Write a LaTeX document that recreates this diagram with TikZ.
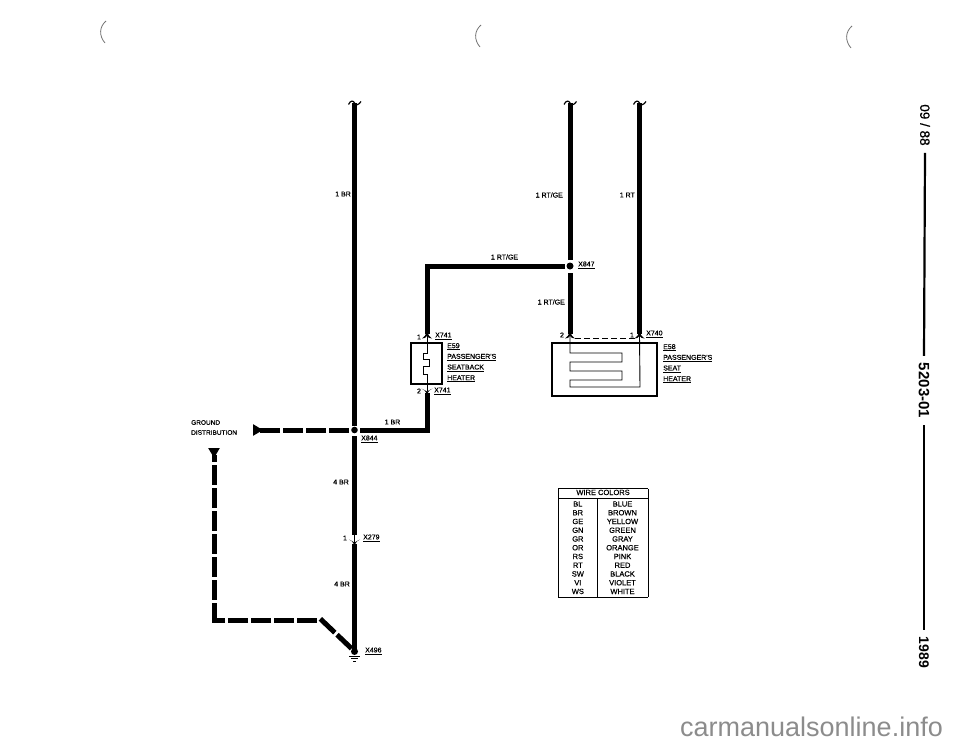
\documentclass[tikz,border=0pt]{standalone}
\usepackage{array}
\usepackage{fontspec}
\setmainfont{Liberation Sans}
\newfontfamily\scanfont[FakeBold=0.6]{Liberation Sans}
\usetikzlibrary{arrows.meta, positioning, calc}

\tikzset{
	wire/.style = {line width=5pt},
	groundwire/.style = {line width=5pt, dash pattern=on 20pt off 3pt},
	thinwire/.style = {line width=0.9pt},
	partbox/.style = {line width=1.1pt},
	wirelabel/.style = {inner sep=0pt, font=\scanfont\fontsize{7}{10.7}\selectfont, align=left},
	sidelabel/.style = {inner sep=7pt, rotate=-90},
	sideline/.style = {line width=2.2pt},
	pinup/.pic = {\fill (-5,2.5) .. controls (-2.5,1.5) and (-1.5,-1) .. (0,-5) .. controls (1.5,-1) and (2.5,1.5) .. (5,2.5) .. controls (2.5,2.5) and (1,1.5) .. (0,0) .. controls (-1,1.5) and (-2.5,2.5) .. cycle;},
	pindown/.pic = {\fill (-5.5,-2.5) .. controls (-3,-2) and (-1.5,0) .. (0,4) .. controls (1.5,0) and (3,-2) .. (5.5,-2.5) .. controls (3,-1) and (1,-0.5) .. (0,0.5) .. controls (-1,-0.5) and (-3,-1) .. cycle;},
	wireend/.pic = {\draw[line width=1.2pt] (-6,1.5) .. controls (-4,-3) and (-1,-2.5) .. (0,0) .. controls (1,2.5) and (4,2.5) .. (6.5,-1.5);}
}

\begin{document}
\begin{tikzpicture}[x=1pt, y=-1pt]
	\useasboundingbox (0,0) rectangle (960,744);

	\coordinate (top1) at (354.5,103);
	\coordinate (top2) at (570,103);
	\coordinate (top3) at (639.5,103);
	\coordinate (x844) at (354.5,430);
	\coordinate (x847) at (570,266);
	\coordinate (x279) at (354.5,542);
	\coordinate (x496) at (354.5,651.5);
	\coordinate (pin59a) at (427,336);
	\coordinate (pin59b) at (427,391);
	\coordinate (pin58a) at (570,336);
	\coordinate (pin58b) at (639.5,336);
	\coordinate (bend59) at (427,266);
	\coordinate (bendbr) at (427,430);

	% wires
	\foreach \t in {top1, top2, top3} \pic at (\t) {wireend};
	\draw[wire] (top1) -- ($(x844)+(0,-4)$);
	\draw[wire] ($(x844)+(0,6)$) -- ($(x279)+(0,-7)$);
	\draw[wire] ($(x279)+(0,2)$) -- ($(x496)+(0,-2)$);
	\draw[wire] (top2) -- ($(x847)+(0,-6)$);
	\draw[wire] ($(x847)+(0,7)$) -- ($(pin58a)+(0,-2)$);
	\draw[wire] (top3) -- ($(pin58b)+(0,-2)$);
	\draw[wire] ($(x847)+(-5,0)$) -- (bend59) -- ($(pin59a)+(0,-2)$);
	\draw[wire] ($(pin59b)+(0,2)$) -- (bendbr) -- ($(x844)+(5,0)$);
	\draw[thinwire] ($(x279)+(0,-8)$) -- ($(x279)+(0,2)$);
	\fill (x844) circle (3.3pt);
	\fill (x847) circle (3.5pt);
	\fill (x496) circle (3.5pt);
	\pic at (x279) {pindown};

	% ground
	\draw[line width=1pt] (349,656) -- (360,656);
	\draw[line width=1pt] (351,658.5) -- (358,658.5);
	\draw[line width=1pt] (353,661) -- (356,661);
	\draw[groundwire, -{Triangle[reversed,length=10pt,width=11pt]}] ($(x844)+(-5.5,0)$) -- (253,430);
	\coordinate (gndbend) at (320,618.5);
	\coordinate (gndcorner) at (212,620);
	\draw[groundwire] ($(x496)+(-3,-3)$) -- (gndbend);
	\draw[groundwire] (317,620) -- (gndcorner);
	\draw[groundwire, -{Triangle[reversed,length=10pt,width=11pt]}] (214,622.5) -- (214,448);

	% E59
	\draw[partbox] (411,343) rectangle (442,384);
	\draw[thinwire] (pin59a) -- (427,353) -- (423,353) -- (423,359) -- (429,359) -- (429,366) -- (423,366) -- (423,374) -- (427,374) -- (pin59b);
	\pic at (pin59a) {pinup};
	\pic at (pin59b) {pindown};

	% E58
	\draw[partbox] (552,343) rectangle (657,396);
	\draw[thinwire] (pin58a) -- (570,353) -- (622,353) -- (622,362) -- (570,362) -- (570,371) -- (622,371) -- (622,380) -- (570,380) -- (570,387) -- (640,387) -- (pin58b);
	\draw[line width=0.9pt, dashed, dash pattern=on 6pt off 3pt] ($(pin58a)+(5,2)$) -- ($(pin58b)+(-5,2)$);
	\pic at (pin58a) {pinup};
	\pic at (pin58b) {pinup};

	% labels
	\node[wirelabel, anchor=east] (lbr) at (351,194) {1 BR};
	\node[wirelabel, anchor=east] (lrtge) at (563,195) {1 RT/GE};
	\node[wirelabel, anchor=east] (lrt) at (635,195) {1 RT};
	\node[wirelabel] (lrtgeh) at (504.5,257) {1 RT/GE};
	\node[wirelabel, anchor=west] (lx847) at (578,265) {\underline{X847}};
	\node[wirelabel, anchor=east] (lrtgel) at (565,302) {1 RT/GE};
	\node[wirelabel] (l59a) at (419,337) {1};
	\node[wirelabel, anchor=west] (lx741a) at (435,336) {\underline{X741}};
	\node[wirelabel] (l59b) at (419,391) {2};
	\node[wirelabel, anchor=west] (lx741b) at (434,391) {\underline{X741}};
	\node[wirelabel] (l58a) at (562,335) {2};
	\node[wirelabel] (l58b) at (632,335) {1};
	\node[wirelabel, anchor=west] (lx740) at (646,334) {\underline{X740}};
	\node[wirelabel, anchor=north west] (le59) at (447,343) {\underline{E59}\\\underline{PASSENGER'S}\\\underline{SEATBACK}\\\underline{HEATER}};
	\node[wirelabel, anchor=north west] (le58) at (663,344) {\underline{E58}\\\underline{PASSENGER'S}\\\underline{SEAT}\\\underline{HEATER}};
	\node[wirelabel, anchor=north west, font=\scanfont\fontsize{6.5}{10}\selectfont] (lground) at (191,420) {GROUND\\DISTRIBUTION};
	\node[wirelabel] (lbrh) at (392.5,422) {1 BR};
	\node[wirelabel, anchor=west] (lx844) at (361,439) {\underline{X844}};
	\node[wirelabel, anchor=east] (lbr4a) at (349,482) {4 BR};
	\node[wirelabel] (l279) at (345,538) {1};
	\node[wirelabel, anchor=west] (lx279) at (363,538) {\underline{X279}};
	\node[wirelabel, anchor=east] (lbr4b) at (350,584) {4 BR};
	\node[wirelabel, anchor=west] (lx496) at (365,651) {\underline{X496}};

	% wire colors
	\node[anchor=north west, inner sep=0pt, font=\scanfont\fontsize{7.5}{8.75}\selectfont] (wirecolors) at (558,488) {\setlength{\tabcolsep}{0pt}\begin{tabular}{|>{\centering\arraybackslash}p{38.5pt}|>{\centering\arraybackslash}p{50pt}|}
			\hline
			\multicolumn{2}{|c|}{\rule[-2.6pt]{0pt}{9pt}WIRE COLORS} \\
			\hline
			\rule{0pt}{8.5pt}BL & BLUE \\
			BR & BROWN \\
			GE & YELLOW \\
			GN & GREEN \\
			GR & GRAY \\
			OR & ORANGE \\
			RS & PINK \\
			RT & RED \\
			SW & BLACK \\
			VI & VIOLET \\
			WS & WHITE \\
			\hline
	\end{tabular}};

	% margin
	\node[sidelabel, font=\scanfont\fontsize{13.5}{13.5}\selectfont] (date) at (925,125) {09 / 88};
	\node[sidelabel, font=\fontsize{15}{15}\bfseries] (page) at (924,390.5) {5203-01};
	\node[sidelabel, font=\fontsize{14}{14}\bfseries] (year) at (924,652.5) {1989};
	\draw[sideline] (date.east) -- (page.west);
	\draw[sideline] (page.east) -- (year.west);

	% scan marks
	\foreach \x/\y in {106/21, 481/25, 852/26}
		\draw[black!55, line width=0.8pt] (\x,\y) .. controls (\x-7,\y+6) and (\x-7,\y+15) .. (\x-1,\y+22);

	\node[inner sep=0pt, text=black!45, font=\fontsize{27}{27}\selectfont] (site) at (811.5,727) {carmanualsonline.info};
\end{tikzpicture}
\end{document}
